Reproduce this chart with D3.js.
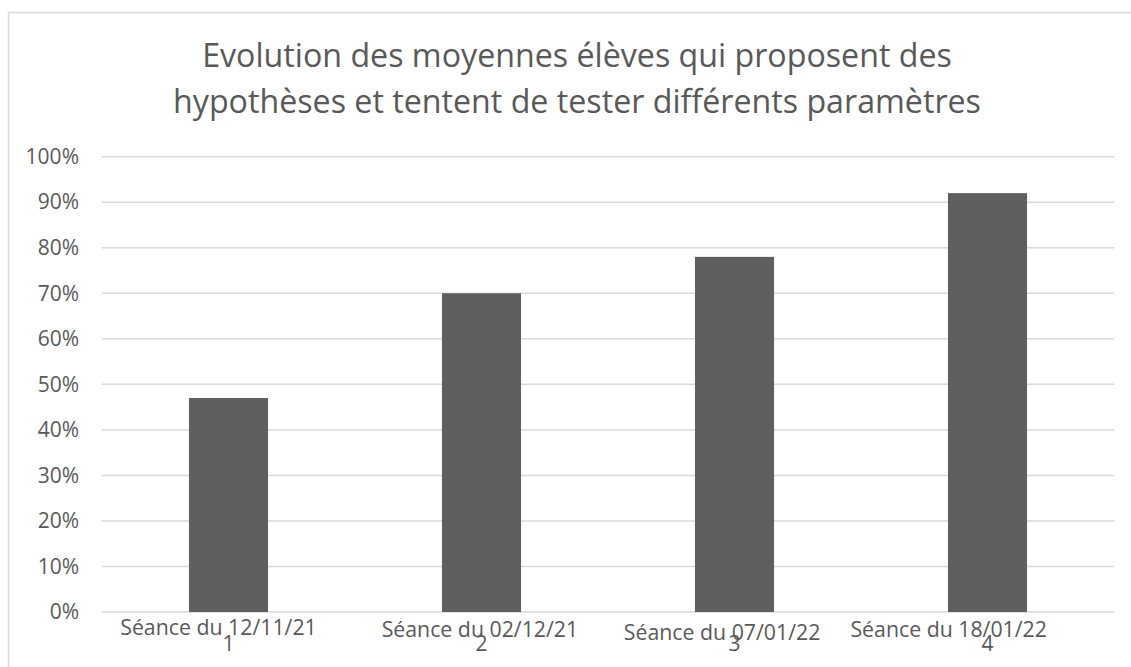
<!DOCTYPE html>
<html>
<head>
<meta charset="utf-8">
<script src="https://cdn.jsdelivr.net/npm/d3@7"></script>
<style>
  html, body { margin: 0; padding: 0; background: #fff; }
  svg { display: block; }
  text { font-family: "Open Sans", "Noto Sans", sans-serif; fill: #595959; }
</style>
</head>
<body>
<svg id="chart" width="1131" height="667"></svg>
<script>
// ---- data ----
const categories = ["1", "2", "3", "4"];
const sessionLabels = ["Séance du 12/11/21", "Séance du 02/12/21", "Séance du 07/01/22", "Séance du 18/01/22"];
const values = [0.47, 0.70, 0.78, 0.92];
const yTicks = [0, 0.1, 0.2, 0.3, 0.4, 0.5, 0.6, 0.7, 0.8, 0.9, 1.0];
const titleLines = ["Evolution des moyennes élèves qui proposent des", "hypothèses et tentent de tester différents paramètres"];

// ---- layout ----
const W = 1131, H = 667;
const plot = { left: 102, right: 1114, top: 156.7, bottom: 612 };
const labelDx = [-10, -1.6, -12.4, -38.8];
const labelY = [635, 637, 640, 636.5];

const svg = d3.select("#chart");

// chart border
svg.append("rect")
  .attr("x", 8.5).attr("y", 12.5)
  .attr("width", W + 20).attr("height", H + 20)
  .attr("fill", "none").attr("stroke", "#d9d9d9").attr("stroke-width", 1.5);

// title
svg.append("g").selectAll("text").data(titleLines).join("text")
  .attr("x", 577)
  .attr("y", (d, i) => 67 + i * 46)
  .attr("text-anchor", "middle")
  .attr("font-size", 32.2)
  .text(d => d);

const x = d3.scaleBand().domain(categories)
  .range([plot.left, plot.right])
  .paddingInner(0.6875).paddingOuter(0.6875 / 2);
const y = d3.scaleLinear().domain([0, 1]).range([plot.bottom, plot.top]);

// gridlines
svg.append("g").selectAll("line").data(yTicks).join("line")
  .attr("x1", plot.left).attr("x2", plot.right)
  .attr("y1", d => y(d)).attr("y2", d => y(d))
  .attr("stroke", "#d9d9d9").attr("stroke-width", 1.5);

// y axis labels
const yAxis = d3.axisLeft(y).tickValues(yTicks).tickFormat(d3.format(".0%")).tickSize(0).tickPadding(0);
const yg = svg.append("g").attr("transform", `translate(79,0)`).call(yAxis);
yg.select(".domain").remove();
yg.selectAll("text").attr("font-size", 21).attr("fill", "#595959")
  .style("font-family", '"Open Sans", sans-serif');

// bars
svg.append("g").selectAll("rect").data(values).join("rect")
  .attr("x", (d, i) => x(categories[i]))
  .attr("width", x.bandwidth())
  .attr("y", d => y(d))
  .attr("height", d => y(0) - y(d))
  .attr("fill", "#5f5f5f");

// x axis category labels
const xAxis = d3.axisBottom(x).tickSize(0).tickPadding(0);
const xg = svg.append("g").attr("transform", `translate(0,${plot.bottom + 24})`).call(xAxis);
xg.select(".domain").remove();
xg.selectAll("text").attr("font-size", 21).attr("fill", "#595959")
  .style("font-family", '"Open Sans", sans-serif');

// session labels (overlaid)
svg.append("g").selectAll("text").data(sessionLabels).join("text")
  .attr("x", (d, i) => x(categories[i]) + x.bandwidth() / 2 + labelDx[i])
  .attr("y", (d, i) => labelY[i])
  .attr("text-anchor", "middle")
  .attr("font-size", 21.3)
  .text(d => d);
</script>
</body>
</html>
